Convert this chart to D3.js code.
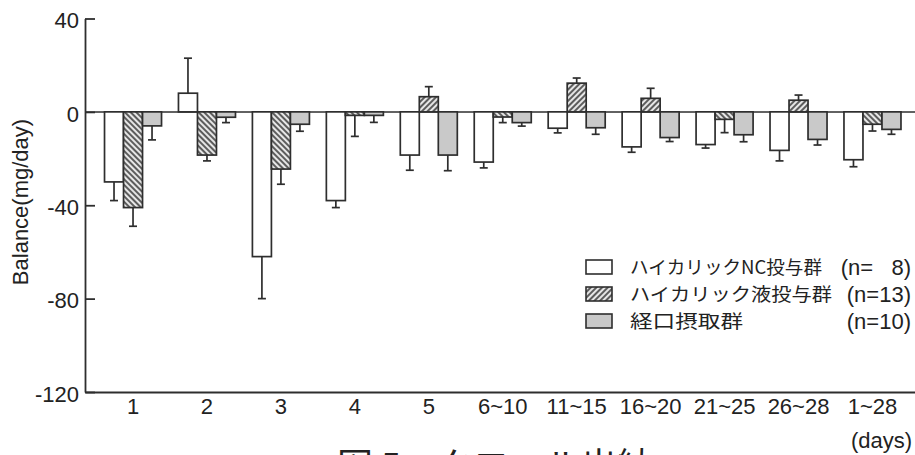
<!DOCTYPE html>
<html><head><meta charset="utf-8">
<script src="https://cdn.jsdelivr.net/npm/d3@7"></script>
<style>
html,body{margin:0;padding:0;background:#fff;}
svg{display:block;}
text{font-family:"Liberation Sans",Arial,sans-serif;fill:#222;}
.jp{font-family:"Noto Sans CJK JP","Noto Sans CJK SC",sans-serif;}
</style></head>
<body>
<script>
// ---- data ----
const categories = ["1","2","3","4","5","6~10","11~15","16~20","21~25","26~28","1~28"];
const seriesNames = ["ハイカリックNC投与群","ハイカリック液投与群","経口摂取群"];
const seriesN = ["(n=\u2007 8)","(n=13)","(n=10)"];
const ncValues   = [-30, 8, -62, -38, -18.5, -21.5, -7, -15, -14, -16.5, -20.5];
const ncErrors   = [8, 15, 18, 3, 6.5, 2.5, 2, 2.3, 1.5, 4.5, 3];
const liqValues  = [-41, -18.5, -24.5, -1.5, 6.5, -2.2, 12.3, 5.8, -3.2, 5, -5.3];
const liqErrors  = [8, 2.5, 6.5, 9, 4.3, 2.4, 2.2, 4.3, 5.7, 2.2, 2.9];
const oralValues = [-6, -2.3, -5.3, -1.5, -18.5, -4.6, -6.8, -11, -9.8, -11.8, -7.5];
const oralErrors = [6, 2.3, 3, 3, 6.7, 1.5, 2.8, 1.7, 3, 2.4, 2.1];
const yTicks = [40, 0, -40, -80, -120];
const yLabel = "Balance(mg/day)";
const xUnit = "(days)";
const caption = "図 5　クロール出納";

// layout (not data)
const W = 915, H = 455;
const legendTextWidths = [192, 202, 113];

const series = [
  {name: seriesNames[0], n: seriesN[0], values: ncValues, errors: ncErrors, fill: "#fff"},
  {name: seriesNames[1], n: seriesN[1], values: liqValues, errors: liqErrors, fill: "hatch"},
  {name: seriesNames[2], n: seriesN[2], values: oralValues, errors: oralErrors, fill: "#c9c9c9"}
];

const svg = d3.select("body").append("svg").attr("width", W).attr("height", H);
const defs = svg.append("defs");
function hatch(id, angle) {
  const p = defs.append("pattern").attr("id", id).attr("patternUnits", "userSpaceOnUse")
    .attr("width", 4).attr("height", 4).attr("patternTransform", `rotate(${angle})`);
  p.append("rect").attr("width", 4).attr("height", 4).attr("fill", "#e6e6e6");
  p.append("line").attr("x1", 1).attr("x2", 1).attr("y1", 0).attr("y2", 4)
    .attr("stroke", "#444").attr("stroke-width", 1.7);
}
hatch("hatchUp", 45);
hatch("hatchDown", -45);

const y = d3.scaleLinear().domain([-120, 40]).range([392, 18.5]);
const x = d3.scaleBand().domain(categories).range([85, 920.5]).paddingInner(0.229).paddingOuter(0.264);
const xs = d3.scaleBand().domain(d3.range(series.length)).range([0, x.bandwidth()]);

const stroke = "#2e2e2e";

// zero line
svg.append("line").attr("x1", 85).attr("x2", W).attr("y1", y(0)).attr("y2", y(0))
  .attr("stroke", stroke).attr("stroke-width", 1.5);

// bars
series.forEach((s, si) => {
  const g = svg.append("g");
  categories.forEach((c, i) => {
    const v = s.values[i];
    const fill = s.fill === "hatch" ? (v >= 0 ? "url(#hatchUp)" : "url(#hatchDown)") : s.fill;
    g.append("rect")
      .attr("x", x(c) + xs(si)).attr("width", xs.bandwidth())
      .attr("y", y(Math.max(0, v))).attr("height", Math.abs(y(v) - y(0)))
      .attr("fill", fill).attr("stroke", stroke).attr("stroke-width", 1.7);
  });
});

// error bars
series.forEach((s, si) => {
  const g = svg.append("g").attr("stroke", stroke).attr("stroke-width", 1.7);
  categories.forEach((c, i) => {
    const v = s.values[i], e = s.errors[i];
    const cx = x(c) + xs(si) + xs.bandwidth() / 2;
    const end = v >= 0 ? v + e : v - e;
    g.append("line").attr("x1", cx).attr("x2", cx).attr("y1", y(v)).attr("y2", y(end));
    g.append("line").attr("x1", cx - 4).attr("x2", cx + 4).attr("y1", y(end)).attr("y2", y(end));
  });
});

// y axis
const yAxis = svg.append("g").attr("transform", "translate(85,0)")
  .call(d3.axisLeft(y).tickValues(yTicks).tickFormat(d => String(d))
    .tickSizeInner(-10).tickSizeOuter(0).tickPadding(6));
yAxis.select(".domain").attr("stroke", stroke).attr("stroke-width", 1.8);
yAxis.selectAll(".tick line").attr("stroke", stroke).attr("stroke-width", 1.8);
yAxis.selectAll(".tick text").attr("font-size", 22).attr("fill", "#222")
  .attr("font-family", "Liberation Sans, Arial, sans-serif").attr("dy", "0.42em");

// x axis
const xAxis = svg.append("g").attr("transform", `translate(0,${y(-120)})`)
  .call(d3.axisBottom(x).tickSize(0).tickPadding(6));
xAxis.select(".domain").attr("stroke", stroke).attr("stroke-width", 2);
xAxis.selectAll(".tick text").attr("font-size", 22).attr("fill", "#222")
  .attr("font-family", "Liberation Sans, Arial, sans-serif");

// y label
svg.append("text").attr("transform", "translate(28,202) rotate(-90)")
  .attr("text-anchor", "middle").attr("font-size", 22).text(yLabel);

// x unit
svg.append("text").attr("x", 912).attr("y", 448).attr("text-anchor", "end")
  .attr("font-size", 22).text(xUnit);

// legend
const legend = svg.append("g");
series.forEach((s, si) => {
  const cy = 267 + si * 27;
  const fill = s.fill === "hatch" ? "url(#hatchUp)" : s.fill;
  legend.append("rect").attr("x", 586).attr("y", cy - 7).attr("width", 26).attr("height", 14)
    .attr("fill", fill).attr("stroke", stroke).attr("stroke-width", 1.6);
  legend.append("text").attr("class", "jp").attr("x", 630).attr("y", cy + 7)
    .attr("font-size", 18.5).attr("textLength", legendTextWidths[si])
    .attr("lengthAdjust", "spacingAndGlyphs").text(s.name);
  legend.append("text").attr("x", 911).attr("y", cy + 8).attr("text-anchor", "end")
    .attr("font-size", 22).text(s.n);
});

// caption (cut off at bottom, as in the reference)
svg.append("text").attr("class", "jp").attr("x", 337).attr("y", 479)
  .attr("font-size", 36).text(caption);
</script>
</body></html>
